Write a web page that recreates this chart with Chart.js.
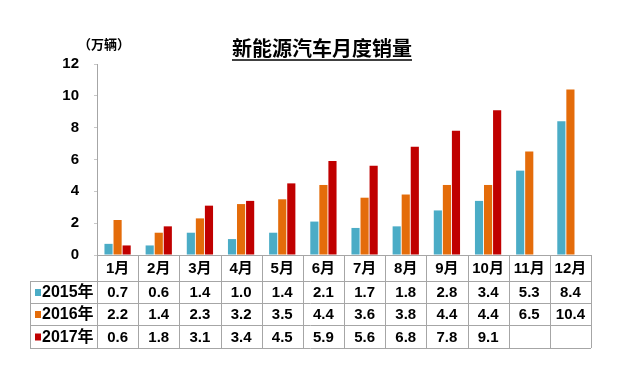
<!DOCTYPE html>
<html>
<head>
<meta charset="utf-8">
<script src="https://cdn.jsdelivr.net/npm/chart.js@4"></script>
<style>
  html, body { margin: 0; padding: 0; background: #fff; }
</style>
</head>
<body>
<canvas id="chart" width="621" height="377"></canvas>
<script>
const months = ['1月', '2月', '3月', '4月', '5月', '6月', '7月', '8月', '9月', '10月', '11月', '12月'];
const seriesNames = ['2015年', '2016年', '2017年'];
const sales2015 = [0.7, 0.6, 1.4, 1.0, 1.4, 2.1, 1.7, 1.8, 2.8, 3.4, 5.3, 8.4];
const sales2016 = [2.2, 1.4, 2.3, 3.2, 3.5, 4.4, 3.6, 3.8, 4.4, 4.4, 6.5, 10.4];
const sales2017 = [0.6, 1.8, 3.1, 3.4, 4.5, 5.9, 5.6, 6.8, 7.8, 9.1, null, null];
const seriesColors = ['#4BACC6', '#E46C0A', '#C00000'];
const chartTitle = '新能源汽车月度销量';
const unitLabel = '（万辆）';

const FONT = '"Liberation Sans", Arial, "Noto Sans CJK SC", sans-serif';
const allSeries = [sales2015, sales2016, sales2017];

// draws title, unit label and the data table under the bars
const tablePlugin = {
  id: 'tablePlugin',
  afterDraw(chart) {
    const ctx = chart.ctx;
    const area = chart.chartArea;
    const colW = area.width / months.length;
    const rows = [area.bottom, area.bottom + 26, area.bottom + 48, area.bottom + 70, area.bottom + 93];
    const labelLeft = 30;

    ctx.save();
    // title
    ctx.fillStyle = '#000';
    ctx.font = 'bold 20px ' + FONT;
    ctx.textAlign = 'center';
    ctx.textBaseline = 'middle';
    ctx.fillText(chartTitle, 322, 50);
    const tw = ctx.measureText(chartTitle).width;
    ctx.strokeStyle = '#000';
    ctx.lineWidth = 1.5;
    ctx.beginPath();
    ctx.moveTo(322 - tw / 2, 60);
    ctx.lineTo(322 + tw / 2, 60);
    ctx.stroke();

    // unit
    ctx.font = 'bold 13px ' + FONT;
    ctx.textAlign = 'left';
    ctx.fillText(unitLabel, 78, 45);

    // table grid
    ctx.strokeStyle = '#A6A6A6';
    ctx.lineWidth = 1;
    ctx.beginPath();
    rows.forEach((y, i) => {
      const x0 = i === 0 ? area.left : labelLeft;
      ctx.moveTo(x0, Math.round(y) + 0.5);
      ctx.lineTo(area.right, Math.round(y) + 0.5);
    });
    for (let i = 0; i <= months.length; i++) {
      const x = Math.round(area.left + i * colW) + 0.5;
      ctx.moveTo(x, rows[0]);
      ctx.lineTo(x, rows[4]);
    }
    ctx.moveTo(labelLeft + 0.5, rows[1]);
    ctx.lineTo(labelLeft + 0.5, rows[4]);
    ctx.stroke();

    // header
    ctx.fillStyle = '#000';
    ctx.font = 'bold 15px ' + FONT;
    ctx.textAlign = 'center';
    ctx.textBaseline = 'middle';
    const xs = chart.scales.x;
    months.forEach((m, i) => {
      ctx.fillText(m, xs.getPixelForValue(i), (rows[0] + rows[1]) / 2 + 1);
    });

    // rows
    allSeries.forEach((vals, r) => {
      const cy = (rows[r + 1] + rows[r + 2]) / 2 + 1;
      ctx.fillStyle = seriesColors[r];
      ctx.fillRect(35, cy - 4, 6, 7);
      ctx.fillStyle = '#000';
      ctx.textAlign = 'left';
      ctx.font = 'bold 16px ' + FONT;
      ctx.fillText(seriesNames[r], 42, cy);
      ctx.textAlign = 'center';
      ctx.font = 'bold 15px ' + FONT;
      vals.forEach((v, i) => {
        if (v === null) return;
        ctx.fillText(v.toFixed(1), xs.getPixelForValue(i), cy);
      });
    });
    ctx.restore();
  }
};

new Chart(document.getElementById('chart'), {
  type: 'bar',
  data: {
    labels: months,
    datasets: seriesNames.map((name, i) => ({
      label: name,
      data: allSeries[i],
      backgroundColor: seriesColors[i],
      categoryPercentage: 0.66,
      barPercentage: 0.9
    }))
  },
  options: {
    responsive: false,
    animation: false,
    devicePixelRatio: 1,
    layout: { padding: { top: 64, right: 30, bottom: 122, left: 0 } },
    plugins: {
      legend: { display: false },
      tooltip: { enabled: false },
      title: { display: false }
    },
    scales: {
      x: { display: false },
      y: {
        min: 0,
        max: 12,
        afterFit(scale) { scale.width = 97; },
        grid: { display: true, drawOnChartArea: false, drawTicks: true, tickLength: 3, color: '#C8C8C8' },
        border: { display: true, color: '#A6A6A6', width: 1 },
        ticks: {
          stepSize: 2,
          padding: 15,
          color: '#000',
          font: { family: FONT, size: 15, weight: 'bold' }
        }
      }
    }
  },
  plugins: [tablePlugin]
});
</script>
</body>
</html>
